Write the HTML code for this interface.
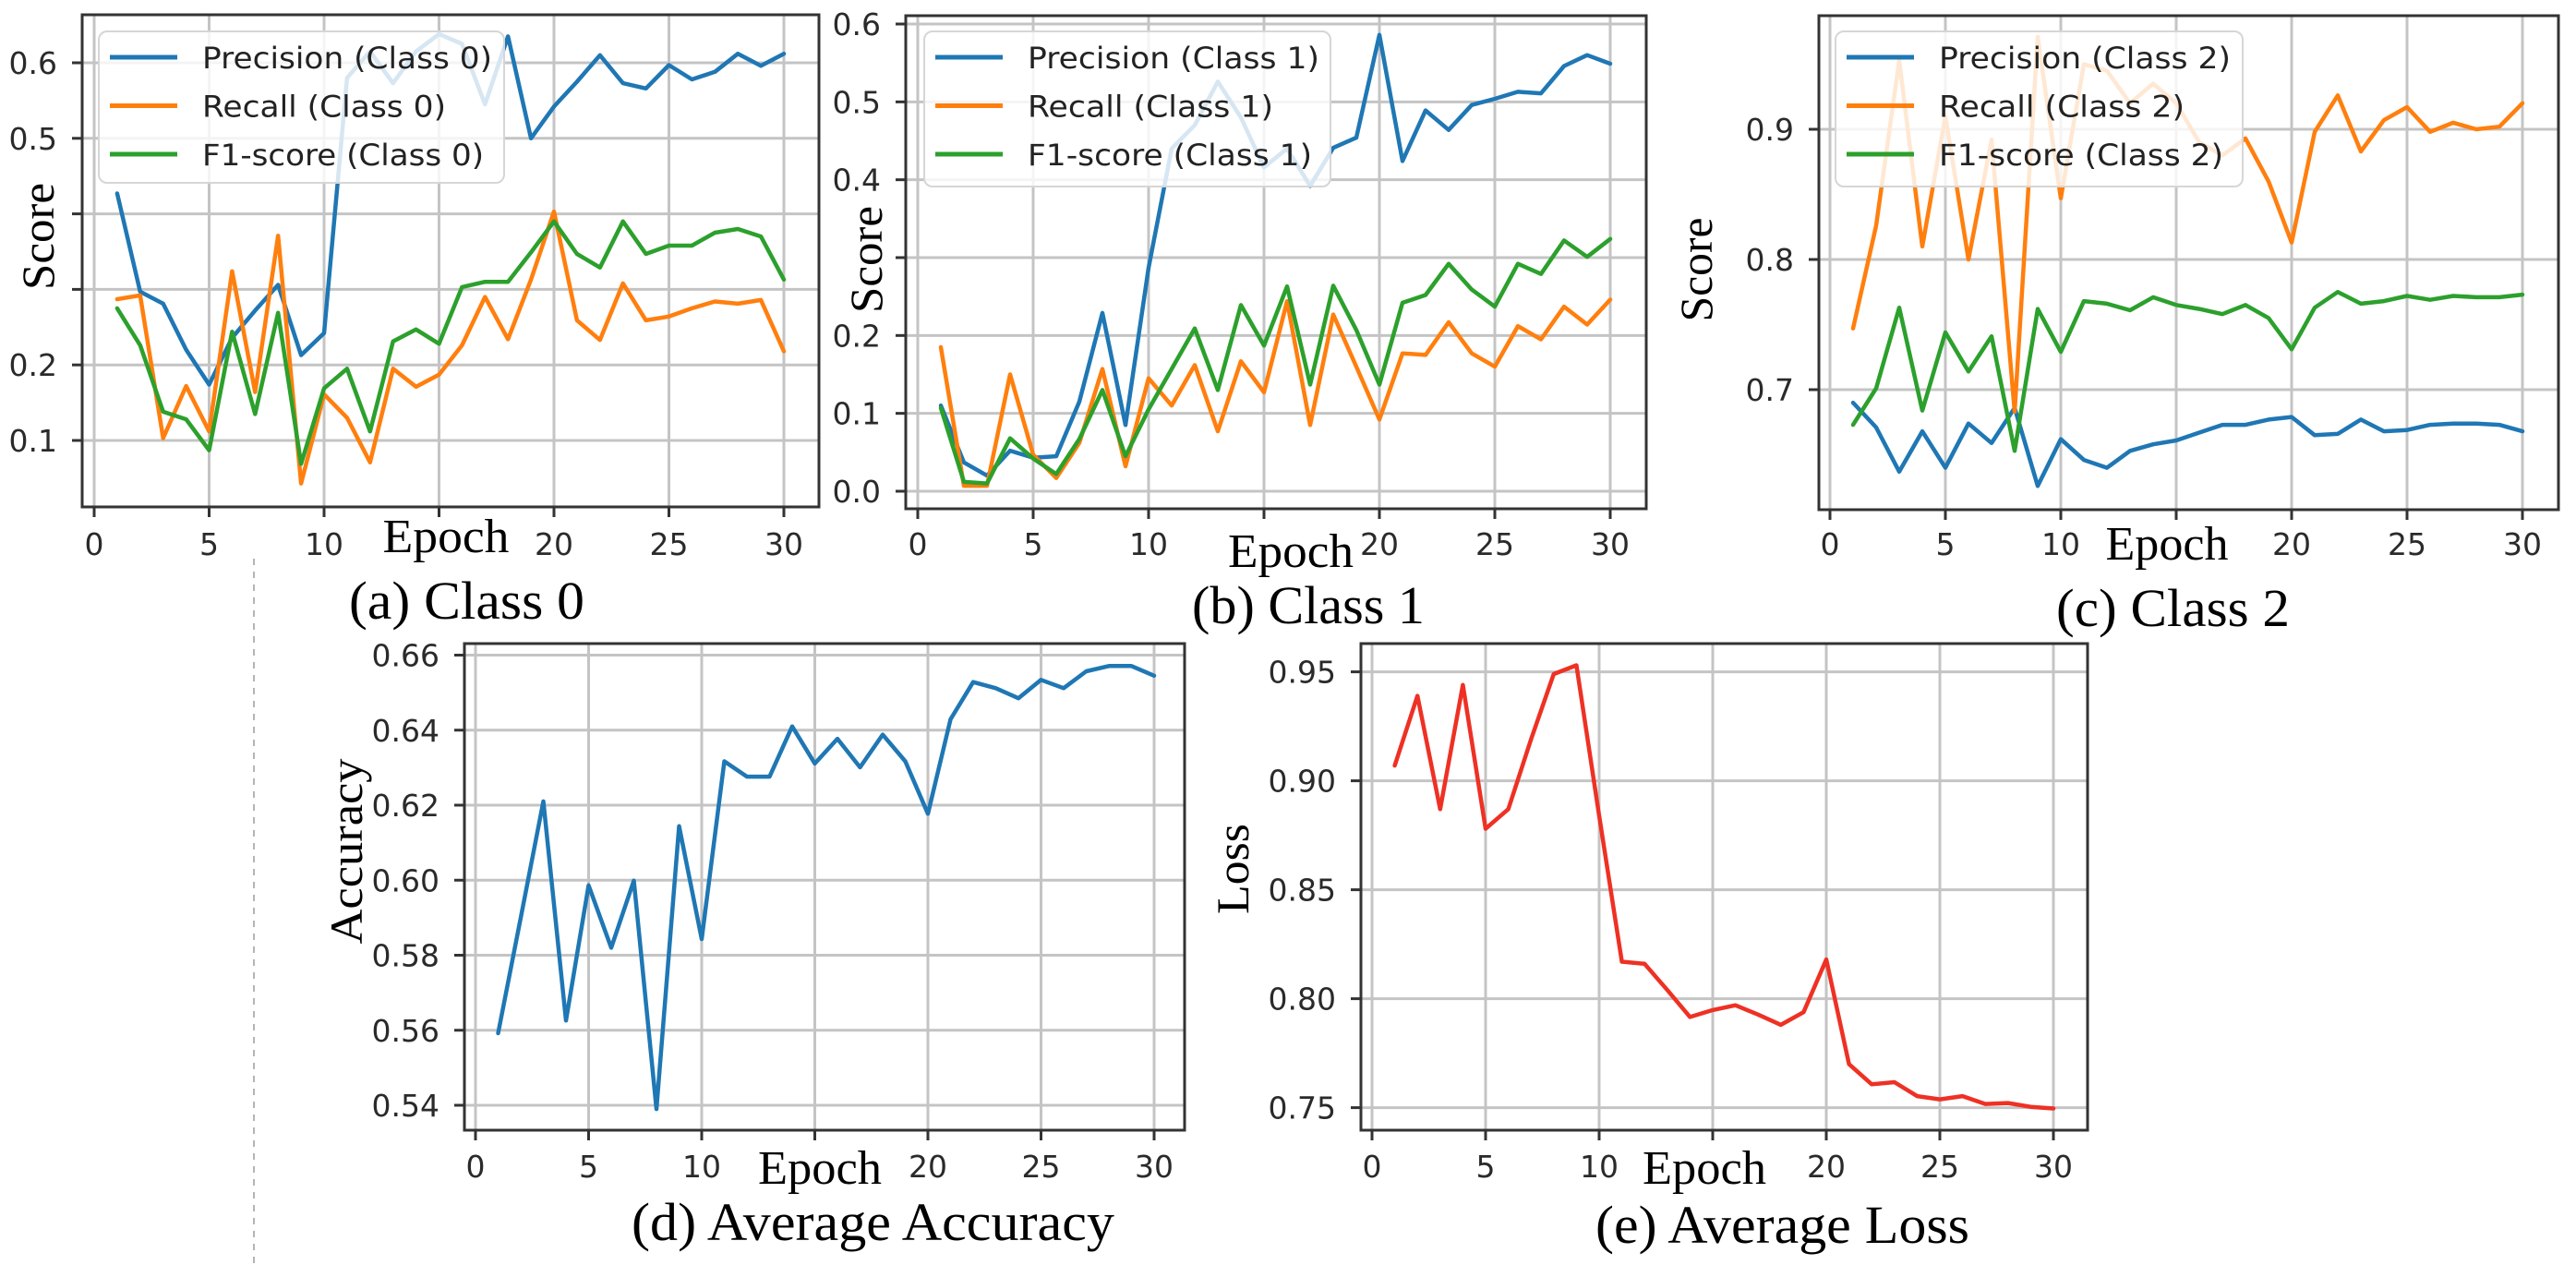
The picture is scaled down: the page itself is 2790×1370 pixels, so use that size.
<!DOCTYPE html>
<html><head><meta charset="utf-8"><title>Training metrics</title>
<style>
html,body{margin:0;padding:0;background:#fff;}
svg{display:block;}
.tick{font-family:"DejaVu Sans","Liberation Sans",sans-serif;font-size:33px;fill:#2a2a2a;}
.leg{font-family:"DejaVu Sans","Liberation Sans",sans-serif;font-size:32px;fill:#222;}
.serif{font-family:"Liberation Serif",serif;fill:#000;}
</style></head>
<body>
<svg id="fig" width="2790" height="1370" viewBox="0 0 2790 1370" xmlns="http://www.w3.org/2000/svg">
<line x1="275" y1="605" x2="275" y2="1370" stroke="#b5b5b5" stroke-width="2" stroke-dasharray="7,7"/>
</svg>
<script>
const epochs = [1,2,3,4,5,6,7,8,9,10,11,12,13,14,15,16,17,18,19,20,21,22,23,24,25,26,27,28,29,30];
const xTickLabels = [0,5,10,20,25,30];
const xGridValues = [0,5,10,15,20,25,30];

const precision0 = [0.427,0.297,0.281,0.22,0.174,0.236,0.272,0.306,0.213,0.242,0.58,0.615,0.573,0.615,0.638,0.625,0.545,0.635,0.50,0.542,0.575,0.61,0.573,0.566,0.597,0.578,0.588,0.612,0.596,0.612];
const recall0 = [0.287,0.292,0.103,0.172,0.112,0.324,0.164,0.371,0.043,0.161,0.130,0.071,0.195,0.171,0.187,0.226,0.29,0.234,0.313,0.403,0.259,0.233,0.308,0.259,0.264,0.275,0.284,0.281,0.286,0.218];
const f1score0 = [0.275,0.226,0.138,0.128,0.087,0.244,0.135,0.269,0.069,0.169,0.195,0.112,0.231,0.247,0.228,0.303,0.31,0.31,0.349,0.39,0.347,0.329,0.39,0.347,0.358,0.358,0.375,0.38,0.37,0.313];

const precision1 = [0.11,0.037,0.02,0.052,0.043,0.045,0.115,0.229,0.085,0.287,0.44,0.47,0.526,0.48,0.416,0.44,0.392,0.441,0.454,0.586,0.424,0.489,0.464,0.496,0.504,0.513,0.511,0.546,0.56,0.549];
const recall1 = [0.185,0.007,0.007,0.15,0.047,0.017,0.062,0.157,0.032,0.145,0.11,0.162,0.077,0.167,0.127,0.244,0.085,0.227,0.16,0.092,0.177,0.175,0.217,0.177,0.16,0.212,0.195,0.237,0.214,0.246];
const f1score1 = [0.107,0.012,0.01,0.068,0.042,0.022,0.067,0.13,0.045,0.105,0.157,0.209,0.13,0.239,0.187,0.263,0.137,0.264,0.207,0.137,0.242,0.252,0.292,0.259,0.237,0.292,0.279,0.322,0.301,0.324];

const precision2 = [0.690,0.671,0.637,0.668,0.640,0.674,0.659,0.686,0.626,0.662,0.646,0.640,0.653,0.658,0.661,0.667,0.673,0.673,0.677,0.679,0.665,0.666,0.677,0.668,0.669,0.673,0.674,0.674,0.673,0.668];
const recall2 = [0.747,0.826,0.953,0.81,0.91,0.80,0.892,0.683,0.971,0.847,0.95,0.945,0.92,0.935,0.92,0.89,0.88,0.893,0.86,0.813,0.898,0.926,0.883,0.907,0.917,0.898,0.905,0.90,0.902,0.92];
const f1score2 = [0.673,0.701,0.763,0.684,0.744,0.714,0.741,0.653,0.762,0.729,0.768,0.766,0.761,0.771,0.765,0.762,0.758,0.765,0.755,0.731,0.763,0.775,0.766,0.768,0.772,0.769,0.772,0.771,0.771,0.773];

const accuracy = [0.5592,0.590,0.621,0.5626,0.5986,0.582,0.5999,0.539,0.6144,0.5843,0.6317,0.6276,0.6276,0.641,0.6311,0.6377,0.6301,0.6388,0.6317,0.6177,0.6429,0.6528,0.6512,0.6485,0.6534,0.6512,0.6557,0.6571,0.6571,0.6545];
const loss = [0.907,0.939,0.887,0.944,0.878,0.887,0.919,0.949,0.953,0.884,0.817,0.816,0.804,0.7916,0.7948,0.797,0.7927,0.788,0.7938,0.818,0.770,0.7607,0.7617,0.7553,0.7538,0.7553,0.7517,0.7521,0.7504,0.7496];

const yGridA = [0.1,0.2,0.3,0.4,0.5,0.6];
const yLabelsA = [0.1,0.2,0.5,0.6];
const yGridB = [0.0,0.1,0.2,0.3,0.4,0.5,0.6];
const yLabelsB = [0.0,0.1,0.2,0.4,0.5,0.6];
const yGridC = [0.7,0.8,0.9];
const yLabelsC = [0.7,0.8,0.9];
const yGridD = [0.54,0.56,0.58,0.60,0.62,0.64,0.66];
const yLabelsD = [0.54,0.56,0.58,0.60,0.62,0.64,0.66];
const yGridE = [0.75,0.80,0.85,0.90,0.95];
const yLabelsE = [0.75,0.80,0.85,0.90,0.95];

const NS = "http://www.w3.org/2000/svg";
const svg = document.getElementById('fig');
function mk(tag, attrs, parent){
  const e = document.createElementNS(NS, tag);
  for (const k in attrs) e.setAttribute(k, attrs[k]);
  (parent||svg).appendChild(e);
  return e;
}
const BLUE="#1f77b4", ORANGE="#ff7f0e", GREEN="#2ca02c", RED="#ee3124";

function panel(p){
  const g = mk('g', {});
  
  
  const xs = v => p.e0 + (p.e30 - p.e0) * v / 30;
  const ys = v => p.ya + (p.yb - p.ya) * (v - p.va) / (p.vb - p.va);
  // grid
  p.xGrid.forEach(v => {
    const l = mk('line', {x1:xs(v), x2:xs(v), y1:p.T, y2:p.B, stroke:'#c4c4c4', 'stroke-width':3}, g);
    
    
    const t = mk('line', {x1:xs(v), x2:xs(v), y1:p.B, y2:p.B+11, stroke:'#333', 'stroke-width':3}, g);
    
    
  });
  p.yGrid.forEach(v => {
    const l = mk('line', {x1:p.L, x2:p.R, y1:ys(v), y2:ys(v), stroke:'#c4c4c4', 'stroke-width':3}, g);
    
    
    const t = mk('line', {x1:p.L-11, x2:p.L, y1:ys(v), y2:ys(v), stroke:'#333', 'stroke-width':3}, g);
    
    
  });
  xTickLabels.forEach(v => {
    const t = mk('text', {x:xs(v), y:p.xLabY, 'text-anchor':'middle', class:'tick'}, g);
    t.textContent = String(v);
    
    
  });
  p.yLabels.forEach(v => {
    const t = mk('text', {x:p.L-27, y:ys(v)+12, 'text-anchor':'end', class:'tick'}, g);
    t.textContent = v.toFixed(p.dec);
    
    
  });
  // series
  p.series.forEach(s => {
    const d = epochs.map((e,i) => (i?'L':'M') + xs(e).toFixed(1) + ' ' + ys(s.data[i]).toFixed(1)).join(' ');
    const path = mk('path', {d:d, fill:'none', stroke:s.color, 'stroke-width':4.5, 'stroke-linejoin':'round', 'stroke-linecap':'round'}, g);
    
    
  });
  // frame
  const fr = mk('rect', {x:p.L, y:p.T, width:p.R-p.L, height:p.B-p.T, fill:'none', stroke:'#333', 'stroke-width':3}, g);
  
  
  // legend
  if (p.legend){
    const lg = p.legend;
    const lgG = mk('g', {}, g);
    
    
    mk('rect', {x:lg.x, y:lg.y, width:lg.w, height:lg.h, rx:9, fill:'#fff', 'fill-opacity':0.82, stroke:'#d6d6d6', 'stroke-width':2}, lgG);
    p.series.forEach((s,i) => {
      const cy = lg.y + 28 + i*52.5;
      const ln = mk('line', {x1:lg.x+12, x2:lg.x+85, y1:cy, y2:cy, stroke:s.color, 'stroke-width':5}, lgG);
      
      
      const t = mk('text', {x:lg.x+112, y:cy+12, class:'leg', textLength:s.tl, lengthAdjust:'spacingAndGlyphs'}, lgG);
      t.textContent = s.label;
      
      
    });
  }
  // axis labels
  const yl = mk('text', {x:0, y:0, 'text-anchor':'middle', class:'serif', 'font-size':p.ylFont, transform:`translate(${p.ylX},${p.ylY}) rotate(-90)`, textLength:p.ylLen, lengthAdjust:'spacingAndGlyphs'}, g);
  yl.textContent = p.ylabel;
  
  
  const xl = mk('text', {x:p.epX, y:p.epY, 'text-anchor':'middle', class:'serif', 'font-size':52, textLength:p.epLen, lengthAdjust:'spacingAndGlyphs'}, g);
  xl.textContent = 'Epoch';
  
  
  const cap = mk('text', {x:p.capX, y:p.capY, class:'serif', 'font-size':58, textLength:p.capLen, lengthAdjust:'spacingAndGlyphs'}, g);
  cap.textContent = p.caption;
  
  
}

panel({name:'panel-class-0', L:89,R:887,T:16,B:549, e0:102,e30:849, va:0.1,ya:477, vb:0.6,yb:68,
  xGrid:xGridValues, yGrid:yGridA, yLabels:yLabelsA, dec:1, xLabY:601,
  series:[{id:'precision-class-0',data:precision0,color:BLUE,label:'Precision (Class 0)',tl:314},
          {id:'recall-class-0',data:recall0,color:ORANGE,label:'Recall (Class 0)',tl:264},
          {id:'f1-class-0',data:f1score0,color:GREEN,label:'F1-score (Class 0)',tl:305}],
  legend:{x:107,y:34,w:439,h:164},
  ylabel:'Score', ylX:58, ylY:256, ylFont:50, ylLen:116,
  epX:483, epY:598, epLen:137,
  caption:'(a) Class 0', capX:378, capY:670, capLen:255});

panel({name:'panel-class-1', L:981,R:1783,T:17,B:551, e0:994,e30:1744, va:0.0,ya:532, vb:0.6,yb:26,
  xGrid:xGridValues, yGrid:yGridB, yLabels:yLabelsB, dec:1, xLabY:601,
  series:[{id:'precision-class-1',data:precision1,color:BLUE,label:'Precision (Class 1)',tl:316},
          {id:'recall-class-1',data:recall1,color:ORANGE,label:'Recall (Class 1)',tl:266},
          {id:'f1-class-1',data:f1score1,color:GREEN,label:'F1-score (Class 1)',tl:308}],
  legend:{x:1001,y:34,w:440,h:168},
  ylabel:'Score', ylX:955, ylY:281, ylFont:50, ylLen:116,
  epX:1398, epY:614, epLen:136,
  caption:'(b) Class 1', capX:1291, capY:675, capLen:252});

panel({name:'panel-class-2', L:1970,R:2771,T:17,B:552, e0:1982,e30:2732, va:0.7,ya:422, vb:0.9,yb:140,
  xGrid:xGridValues, yGrid:yGridC, yLabels:yLabelsC, dec:1, xLabY:601,
  series:[{id:'precision-class-2',data:precision2,color:BLUE,label:'Precision (Class 2)',tl:316},
          {id:'recall-class-2',data:recall2,color:ORANGE,label:'Recall (Class 2)',tl:266},
          {id:'f1-class-2',data:f1score2,color:GREEN,label:'F1-score (Class 2)',tl:308}],
  legend:{x:1988,y:34,w:441,h:168},
  ylabel:'Score', ylX:1854, ylY:292, ylFont:50, ylLen:113,
  epX:2347, epY:606, epLen:133,
  caption:'(c) Class 2', capX:2227, capY:678, capLen:253});

panel({name:'panel-average-accuracy', L:503,R:1283,T:697,B:1224, e0:515,e30:1250, va:0.54,ya:1197, vb:0.66,yb:709.5,
  xGrid:xGridValues, yGrid:yGridD, yLabels:yLabelsD, dec:2, xLabY:1275,
  series:[{id:'accuracy-line',data:accuracy,color:BLUE}],
  legend:null,
  ylabel:'Accuracy', ylX:392, ylY:922, ylFont:50, ylLen:201,
  epX:888, epY:1282, epLen:134,
  caption:'(d) Average Accuracy', capX:684, capY:1343, capLen:523});

panel({name:'panel-average-loss', L:1474,R:2261,T:697,B:1224, e0:1486,e30:2224, va:0.75,ya:1199.6, vb:0.95,yb:727.6,
  xGrid:xGridValues, yGrid:yGridE, yLabels:yLabelsE, dec:2, xLabY:1275,
  series:[{id:'loss-line',data:loss,color:RED}],
  legend:null,
  ylabel:'Loss', ylX:1352, ylY:941, ylFont:50, ylLen:98,
  epX:1846, epY:1282, epLen:134,
  caption:'(e) Average Loss', capX:1728, capY:1346, capLen:405});
</script>
</body></html>
